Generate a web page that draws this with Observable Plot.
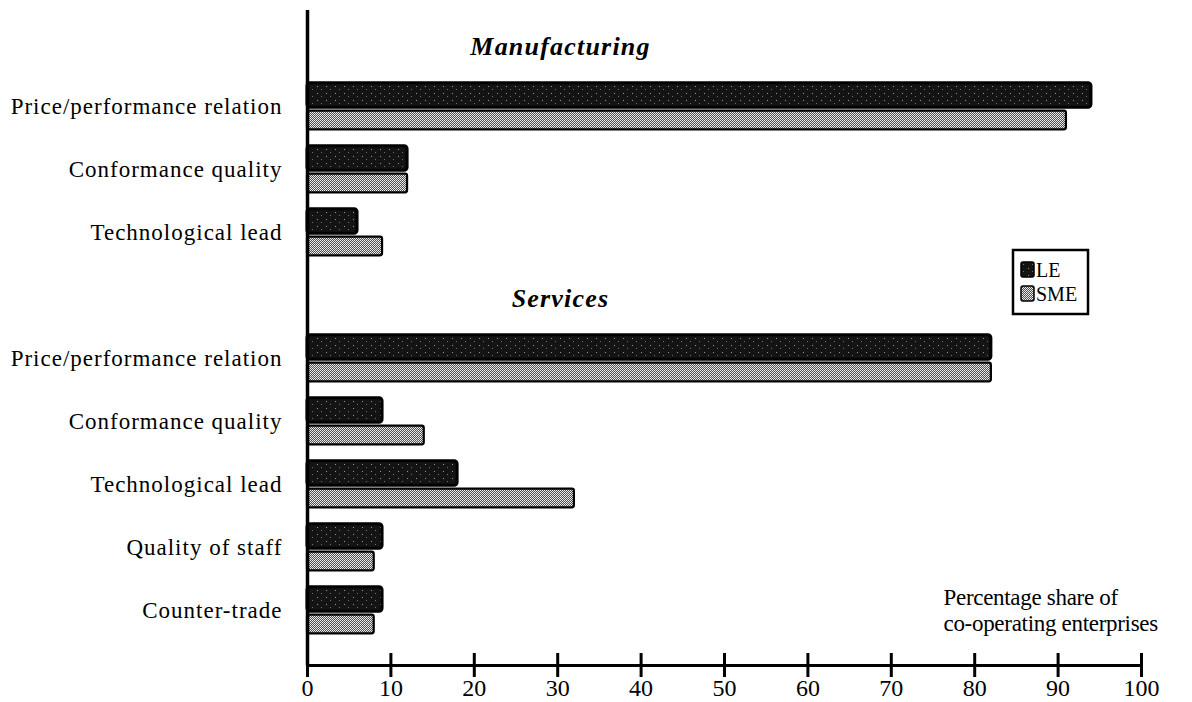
<!DOCTYPE html>
<html><head><meta charset="utf-8">
<script src="https://cdn.jsdelivr.net/npm/d3@7"></script>
<script src="https://cdn.jsdelivr.net/npm/@observablehq/plot@0.6"></script>
<style>
html,body{margin:0;padding:0;background:#fff;}
#chart{position:relative;width:1192px;height:702px;}
</style></head><body><div id="chart"></div>
<script>
const sectors = ["Manufacturing", "Services"];
const series = ["LE", "SME"];
const mfgCategories = ["Price/performance relation", "Conformance quality", "Technological lead"];
const mfgLE = [94, 12, 6];
const mfgSME = [91, 12, 9];
const svcCategories = ["Price/performance relation", "Conformance quality", "Technological lead", "Quality of staff", "Counter-trade"];
const svcLE = [82, 9, 18, 9, 9];
const svcSME = [82, 14, 32, 8, 8];
const xTicks = [0, 10, 20, 30, 40, 50, 60, 70, 80, 90, 100];
const axisCaption = ["Percentage share of", "co-operating enterprises"];

const groups = [[sectors[0], mfgCategories, mfgLE, mfgSME], [sectors[1], svcCategories, svcLE, svcSME]];
const rowKeys = [];
const bars = [];
for (const [sector, cats, le, sme] of groups) {
  rowKeys.push(sector);
  cats.forEach((c, i) => {
    const key = sector + "|" + c;
    rowKeys.push(key);
    bars.push({key, series: series[0], value: le[i]});
    bars.push({key, series: series[1], value: sme[i]});
  });
}

const W = 1192, H = 702, mT = 10, mB = 37, mL = 307, mR = 51;
const yRange = [10, 643];
const frameH = H - mT - mB;
const half = (yRange[1] - yRange[0]) / rowKeys.length / 2;
const serif = "'Liberation Serif', 'Times New Roman', serif";

const chart = Plot.plot({
  width: W, height: H,
  marginTop: mT, marginBottom: mB, marginLeft: mL, marginRight: mR,
  style: {fontFamily: serif, fontSize: "22px", background: "#fff", color: "#000"},
  x: {domain: [0, 100], ticks: xTicks, tickSize: 0, tickPadding: 13, label: null},
  y: {domain: rowKeys, range: yRange, padding: 0, tickSize: 0, tickPadding: 25, label: null,
      tickFormat: k => k.includes("|") ? k.split("|")[1] : ""},
  marks: [
    Plot.barX(bars.filter(d => d.series === "LE"), {x: "value", y: "key", insetTop: half - 24, insetBottom: half - 1,
      fill: "url(#lePat)", stroke: "#000", strokeWidth: 3, rx: 3}),
    Plot.barX(bars.filter(d => d.series === "SME"), {x: "value", y: "key", insetTop: half + 4, insetBottom: half - 23,
      fill: "url(#smePat)", stroke: "#000", strokeWidth: 2.2, rx: 2}),
    Plot.ruleX([0], {strokeWidth: 3.5}),
    Plot.frame({anchor: "bottom", strokeWidth: 3}),
    Plot.ruleX(xTicks, {x: d => d, insetTop: frameH - 12, insetBottom: -12, strokeWidth: 3}),
    Plot.text(sectors, {y: d => d, frameAnchor: "left", dx: 253, dy: 3, textAnchor: "middle",
      fontWeight: "bold", fontStyle: "italic", fontSize: 26}),
    Plot.text([axisCaption.join("\n")], {frameAnchor: "bottom-right", textAnchor: "start", lineAnchor: "top",
      dx: -198, dy: -78, lineHeight: 1.1, fontSize: 23})
  ]
});

const svg = d3.select(chart);
const defs = svg.insert("defs", ":first-child");
const sp = defs.append("pattern").attr("id", "smePat").attr("patternUnits", "userSpaceOnUse").attr("width", 2).attr("height", 2);
sp.append("rect").attr("width", 2).attr("height", 2).attr("fill", "#505050");
sp.append("rect").attr("width", 1).attr("height", 1).attr("fill", "#f0f0f0");
sp.append("rect").attr("x", 1).attr("y", 1).attr("width", 1).attr("height", 1).attr("fill", "#e0e0e0");
const lp = defs.append("pattern").attr("id", "lePat").attr("patternUnits", "userSpaceOnUse").attr("width", 9).attr("height", 7);
lp.append("rect").attr("width", 9).attr("height", 7).attr("fill", "#141414");
lp.append("rect").attr("x", 2).attr("y", 2).attr("width", 1).attr("height", 1).attr("fill", "#9a9a9a");
lp.append("rect").attr("x", 6).attr("y", 5).attr("width", 1).attr("height", 1).attr("fill", "#707070");

const allCats = new Set([...mfgCategories, ...svcCategories]);
const tickStrings = new Set(xTicks.map(String));
svg.selectAll("text").each(function() {
  const t = this.textContent;
  if (allCats.has(t)) { this.style.letterSpacing = "1px"; this.style.fontSize = "23px"; }
  if (sectors.includes(t)) { this.style.letterSpacing = "1.2px"; }
  if (tickStrings.has(t)) { this.style.fontSize = "24px"; }
});
svg.selectAll("tspan").each(function() {
  this.style.letterSpacing = "-0.3px";
});

const lg = svg.append("g").attr("font-family", serif).attr("font-size", 20).attr("text-anchor", "start");
lg.append("rect").attr("x", 1013).attr("y", 250).attr("width", 75).attr("height", 64)
  .attr("fill", "#fff").attr("stroke", "#000").attr("stroke-width", 2.5);
series.forEach((s, i) => {
  const cy = 270 + i * 24;
  lg.append("rect").attr("x", 1021).attr("y", cy - 8).attr("width", 13).attr("height", 15).attr("rx", 2)
    .attr("fill", i ? "url(#smePat)" : "url(#lePat)").attr("stroke", "#000").attr("stroke-width", 1.5);
  lg.append("text").attr("x", 1036).attr("y", cy + 7).attr("text-anchor", "start").text(s);
});

document.getElementById("chart").appendChild(chart);
</script>
</body></html>
